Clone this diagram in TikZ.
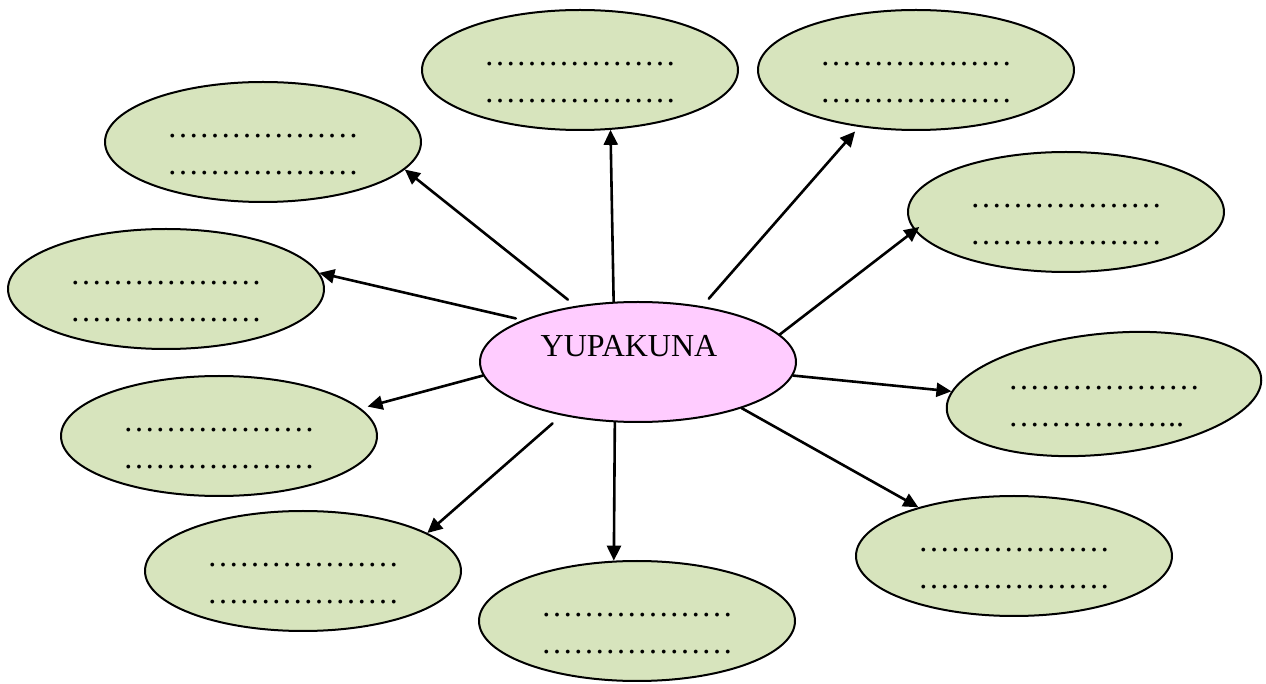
\documentclass[tikz,border=0pt]{standalone}
\usepackage{fontspec}
\setmainfont{Liberation Serif}
\usepackage{graphicx}
\usetikzlibrary{arrows.meta}
\usetikzlibrary{shapes.geometric}
\definecolor{verde}{HTML}{D7E4BD}
\definecolor{rosa}{HTML}{FFCCFF}
\newcommand{\lineas}[2]{\vbox{\hbox{\rule{0pt}{14pt}#1}\hbox{#2}}}
\newcommand{\puntos}{………………}

\begin{document}
\begin{tikzpicture}[line cap=round,line join=round,>={Triangle[length=7.5pt,width=7pt]},x=0.5pt,y=-0.5pt,
  burbuja/.style={ellipse,draw,line width=1pt,fill=verde,minimum width=158pt,minimum height=60pt,inner sep=0pt,font=\fontsize{16}{18.5}\selectfont}]
\useasboundingbox (0,0) rectangle (1266,684);
%centro
\node[burbuja,fill=rosa,text depth=16pt] (c) at (638,362) {YUPAKUNA\hspace*{9pt}};
%burbujas verdes
\foreach \n/\x/\y in {1/580/70,2/916/70,3/263/142,4/1066/212,5/166/289,8/219/436,9/1014/556,10/303/571,11/637/621}
{
\node[burbuja] (e\n) at (\x,\y) {\lineas{\puntos}{\puntos}};
}
\node[burbuja,rotate=6] (e7) at (1104,394) {\rotatebox{-6}{\lineas{\puntos}{……………..}}};
%flechas
\foreach \n/\a/\b/\s/\t in {1/112/-63/0/0,2/41.5/-135/5/3,3/138.5/-11.6/5/0,4/11.5/187.3/0/-3,5/160/6.2/3.5/0,7/-5.4/173/0/0,8/185.4/11.6/0/3.5,9/-24.3/153.9/0/0,10/215.2/17.7/6/0,11/-111.8/111/0/0}
{
\draw[->,line width=1.3pt,shorten <=\s pt,shorten >=\t pt] (c.\a) -- (e\n.\b);
}
\end{tikzpicture}
\end{document}
